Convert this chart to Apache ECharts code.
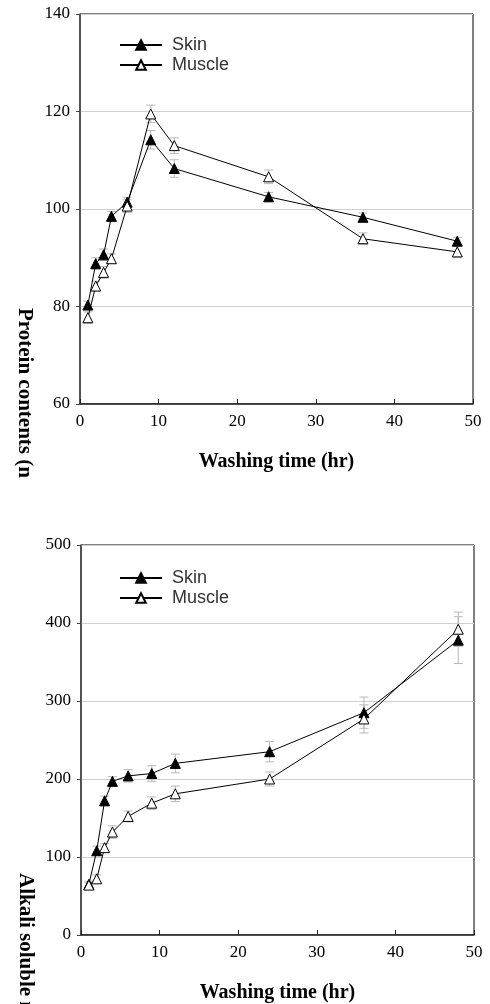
<!DOCTYPE html>
<html><head><meta charset="utf-8">
<script src="https://cdn.jsdelivr.net/npm/echarts@6/dist/echarts.min.js"></script>
<style>html,body{margin:0;padding:0;background:#fff}#c{width:490px;height:1004px}</style>
</head><body><div id="c"></div>
<script>
// ---- data ----
const hours = [1, 2, 3, 4, 6, 9, 12, 24, 36, 48];
const seriesNames = ['Skin', 'Muscle'];
// Chart 1: protein contents
const proteinSkin = [80.3, 88.8, 90.6, 98.5, 101.4, 114.2, 108.3, 102.5, 98.3, 93.4];
const proteinSkinErr = [0.8, 1.2, 1.2, 1.0, 1.0, 1.9, 1.8, 0.9, 0.9, 0.8];
const proteinMuscle = [77.7, 84.2, 87.0, 89.8, 100.6, 119.5, 113.0, 106.6, 93.9, 91.2];
const proteinMuscleErr = [1.2, 1.0, 1.2, 1.0, 1.3, 1.8, 1.6, 1.4, 1.2, 1.2];
// Chart 2: alkali soluble protein
const alkaliSkin = [65, 108, 172, 197, 204, 207, 220, 235, 285, 378];
const alkaliSkinErr = [4, 6, 6, 6, 8, 10, 12, 13, 20, 30];
const alkaliMuscle = [64, 72, 112, 132, 152, 169, 181, 200, 277, 392];
const alkaliMuscleErr = [3, 5, 5, 8, 7, 8, 10, 9, 18, 22];
// axes / text
const xTitle = 'Washing time (hr)';
const yTitle1 = 'Protein contents (n';
const yTitle2 = 'Alkali soluble n';

const serif = '"Liberation Serif", "Times New Roman", serif';
const sans = '"Liberation Sans", Arial, sans-serif';

function errSeries(name, xs, ys, errs, gi) {
  return {
    type: 'custom', name: name, xAxisIndex: gi, yAxisIndex: gi, z: 1, silent: true,
    data: xs.map((x, i) => [x, ys[i] - errs[i], ys[i] + errs[i]]),
    encode: { x: 0, y: [1, 2] },
    renderItem: function (params, api) {
      const lo = api.coord([api.value(0), api.value(1)]);
      const hi = api.coord([api.value(0), api.value(2)]);
      const w = 4.5;
      const st = { stroke: '#b8b8b8', lineWidth: 1 };
      return { type: 'group', children: [
        { type: 'line', shape: { x1: lo[0], y1: lo[1], x2: hi[0], y2: hi[1] }, style: st },
        { type: 'line', shape: { x1: lo[0] - w, y1: lo[1], x2: lo[0] + w, y2: lo[1] }, style: st },
        { type: 'line', shape: { x1: hi[0] - w, y1: hi[1], x2: hi[0] + w, y2: hi[1] }, style: st }
      ]};
    }
  };
}
function lineSeries(name, ys, gi, filled) {
  return {
    type: 'line', name: name, xAxisIndex: gi, yAxisIndex: gi, z: 3,
    data: hours.map((x, i) => [x, ys[i]]),
    symbol: 'triangle', symbolSize: 10,
    lineStyle: { color: '#000', width: 1 },
    itemStyle: filled ? { color: '#000', borderColor: '#000', borderWidth: 1 }
                      : { color: '#fff', borderColor: '#000', borderWidth: 1 },
    emphasis: { disabled: true }
  };
}
function xAxis(gi) {
  return {
    type: 'value', gridIndex: gi, min: 0, max: 50, interval: 10,
    axisLine: { show: true, lineStyle: { color: '#222', width: 1.5 } },
    axisTick: { show: true, inside: true, length: 5, lineStyle: { color: '#222' } },
    axisLabel: { fontFamily: serif, fontSize: 17, color: '#000', margin: 9 },
    splitLine: { show: false },
    name: xTitle, nameLocation: 'middle', nameGap: 48,
    nameTextStyle: { fontFamily: serif, fontSize: 20, fontWeight: 'bold', color: '#000' }
  };
}
function yAxis(gi, min, max, interval) {
  return {
    type: 'value', gridIndex: gi, min: min, max: max, interval: interval,
    axisLine: { show: true, lineStyle: { color: '#444', width: 1.5 } },
    axisTick: { show: true, inside: false, length: 4, lineStyle: { color: '#444' } },
    axisLabel: { fontFamily: serif, fontSize: 17, color: '#000', margin: 10 },
    splitLine: { show: true, lineStyle: { color: '#cfcfcf', width: 1 } }
  };
}
function legend(top) {
  return {
    orient: 'vertical', left: 114, top: top, itemWidth: 42, itemHeight: 12, itemGap: 2,
    data: seriesNames, selectedMode: false,
    textStyle: { fontFamily: sans, fontSize: 18, color: '#333', padding: [0, 0, 0, 5] }
  };
}

const chart = echarts.init(document.getElementById('c'), null, { renderer: 'canvas' });
chart.setOption({
  animation: false,
  backgroundColor: '#fff',
  grid: [
    { left: 80, right: 17, top: 14, height: 390, show: true, borderColor: '#000', borderWidth: 1 },
    { left: 81, right: 16, top: 545, height: 390, show: true, borderColor: '#000', borderWidth: 1 }
  ],
  xAxis: [xAxis(0), xAxis(1)],
  yAxis: [yAxis(0, 60, 140, 20), yAxis(1, 0, 500, 100)],
  legend: [legend(31), legend(564)],
  graphic: [
    { type: 'text', x: 24, y: 308, rotation: -Math.PI / 2,
      style: { text: yTitle1, font: 'bold 21px ' + serif, fill: '#000', textAlign: 'left', textVerticalAlign: 'middle' } },
    { type: 'text', x: 25, y: 873, rotation: -Math.PI / 2,
      style: { text: yTitle2, font: 'bold 21px ' + serif, fill: '#000', textAlign: 'left', textVerticalAlign: 'middle' } }
  ],
  series: [
    errSeries('Skin SD', hours, proteinSkin, proteinSkinErr, 0),
    errSeries('Muscle SD', hours, proteinMuscle, proteinMuscleErr, 0),
    lineSeries(seriesNames[0], proteinSkin, 0, true),
    lineSeries(seriesNames[1], proteinMuscle, 0, false),
    errSeries('Skin SD 2', hours, alkaliSkin, alkaliSkinErr, 1),
    errSeries('Muscle SD 2', hours, alkaliMuscle, alkaliMuscleErr, 1),
    lineSeries(seriesNames[0], alkaliSkin, 1, true),
    lineSeries(seriesNames[1], alkaliMuscle, 1, false)
  ]
});
</script></body></html>
